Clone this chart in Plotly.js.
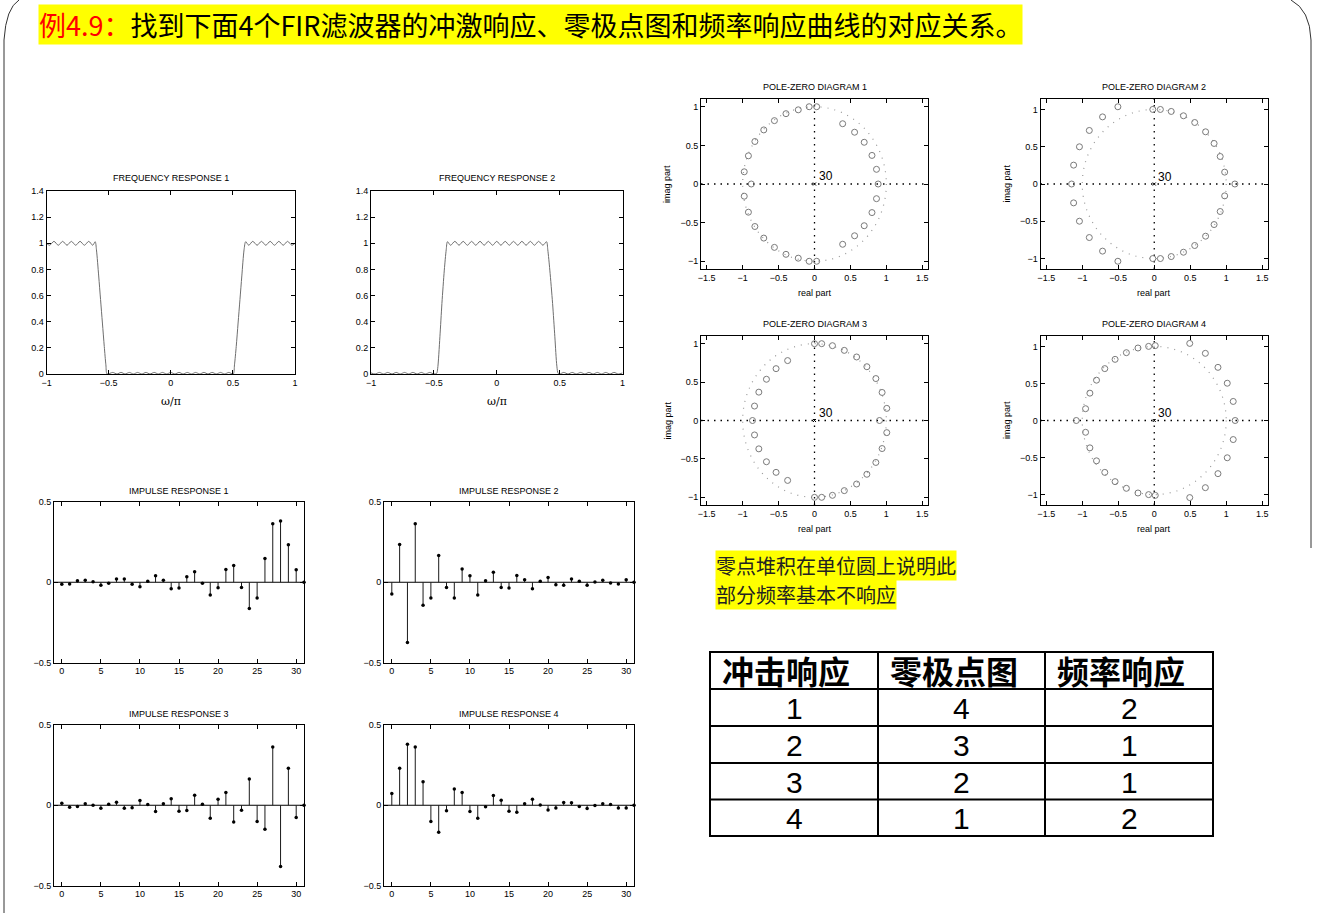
<!DOCTYPE html>
<html><head><meta charset="utf-8">
<script src="https://cdn.plot.ly/plotly-3.0.1.min.js"></script>
<style>html,body{margin:0;padding:0;background:#fff}#chart{width:1317px;height:913px}</style>
</head><body><div id="chart"></div>
<script>
const W = 1317, H = 913;

// ---------- DATA ----------
const slideTitleRed = '例4.9：';
const slideTitleBlack = '找到下面4个FIR滤波器的冲激响应、零极点图和频率响应曲线的对应关系。';
const noteLines = ['零点堆积在单位圆上说明此', '部分频率基本不响应'];

const frTitles = ['FREQUENCY RESPONSE 1', 'FREQUENCY RESPONSE 2'];
const irTitles = ['IMPULSE RESPONSE 1', 'IMPULSE RESPONSE 2', 'IMPULSE RESPONSE 3', 'IMPULSE RESPONSE 4'];
const pzTitles = ['POLE-ZERO DIAGRAM 1', 'POLE-ZERO DIAGRAM 2', 'POLE-ZERO DIAGRAM 3', 'POLE-ZERO DIAGRAM 4'];

const frTicksX = [-1, -0.5, 0, 0.5, 1];
const frTicksY = [0, 0.2, 0.4, 0.6, 0.8, 1, 1.2, 1.4];
const irTicksX = [0, 5, 10, 15, 20, 25, 30];
const irTicksY = [-0.5, 0, 0.5];
const pzTicksX = [-1.5, -1, -0.5, 0, 0.5, 1, 1.5];
const pzTicksY = [-1, -0.5, 0, 0.5, 1];

const fr1X = [-1, -0.975, -0.94, -0.905, -0.87, -0.835, -0.8, -0.765, -0.73, -0.695, -0.66, -0.628, -0.608,
  -0.598, -0.58, -0.565, -0.55, -0.535, -0.522, -0.512,
  -0.467, -0.433, -0.4, -0.367, -0.333, -0.3, -0.267, -0.233, -0.2, -0.167, -0.133, -0.1, -0.067, -0.033, 0,
  0.033, 0.067, 0.1, 0.133, 0.167, 0.2, 0.233, 0.267, 0.3, 0.333, 0.367, 0.4, 0.433, 0.467, 0.503,
  0.513, 0.527, 0.542, 0.557, 0.572, 0.59, 0.603,
  0.628, 0.66, 0.695, 0.73, 0.765, 0.8, 0.835, 0.87, 0.905, 0.94, 0.975, 1];
const fr1Y = [1.0, 0.985, 1.015, 0.985, 1.015, 0.985, 1.015, 0.985, 1.015, 0.985, 1.015, 0.985, 1.012,
  0.95, 0.75, 0.57, 0.39, 0.21, 0.07, 0.0,
  0.012, 0, 0.012, 0, 0.012, 0, 0.012, 0, 0.012, 0, 0.012, 0, 0.012, 0, 0.012,
  0, 0.012, 0, 0.012, 0, 0.012, 0, 0.012, 0, 0.012, 0, 0.012, 0, 0.012, 0,
  0.07, 0.21, 0.39, 0.57, 0.75, 0.95, 1.012,
  0.985, 1.015, 0.985, 1.015, 0.985, 1.015, 0.985, 1.015, 0.985, 1.015, 0.985, 1.0];

const fr2X = [-1, -0.967, -0.933, -0.9, -0.867, -0.833, -0.8, -0.767, -0.733, -0.7, -0.667, -0.633, -0.6, -0.567, -0.533, -0.5,
  -0.478, -0.47, -0.452, -0.436, -0.417, -0.402, -0.392,
  -0.367, -0.333, -0.3, -0.267, -0.233, -0.2, -0.167, -0.133, -0.1, -0.067, -0.033, 0,
  0.033, 0.067, 0.1, 0.133, 0.167, 0.2, 0.233, 0.267, 0.3, 0.333, 0.367, 0.396,
  0.406, 0.422, 0.444, 0.462, 0.478, 0.488,
  0.5, 0.533, 0.567, 0.6, 0.633, 0.667, 0.7, 0.733, 0.767, 0.8, 0.833, 0.867, 0.9, 0.933, 0.967, 1];
const fr2Y = [0.008, 0, 0.012, 0, 0.012, 0, 0.012, 0, 0.012, 0, 0.012, 0, 0.012, 0, 0.012, 0,
  0.005, 0.04, 0.285, 0.54, 0.795, 0.95, 1.012,
  0.985, 1.015, 0.985, 1.015, 0.985, 1.015, 0.985, 1.015, 0.985, 1.015, 0.985, 1.015,
  0.985, 1.015, 0.985, 1.015, 0.985, 1.015, 0.985, 1.015, 0.985, 1.015, 0.985, 1.012,
  0.95, 0.795, 0.54, 0.285, 0.06, 0.005,
  0, 0.012, 0, 0.012, 0, 0.012, 0, 0.012, 0, 0.012, 0, 0.012, 0, 0.012, 0, 0.008];

const irN = [0, 1, 2, 3, 4, 5, 6, 7, 8, 9, 10, 11, 12, 13, 14, 15, 16, 17, 18, 19, 20, 21, 22, 23, 24, 25, 26, 27, 28, 29, 30, 31];
const ir1 = [-0.013, -0.011, 0.009, 0.013, 0.003, -0.018, -0.007, 0.02, 0.02, -0.013, -0.028, 0.007, 0.04, 0.013, -0.04, -0.036,
  0.034, 0.065, -0.007, -0.08, -0.034, 0.08, 0.105, -0.032, -0.163, -0.098, 0.148, 0.365, 0.382, 0.233, 0.078, 0];
const ir2 = [-0.073, 0.235, -0.376, 0.365, -0.144, -0.098, 0.167, -0.032, -0.098, 0.082, 0.04, -0.08, 0.009, 0.063, -0.032, -0.036,
  0.042, 0.016, -0.04, 0.007, 0.03, -0.016, -0.018, 0.02, 0.007, -0.018, 0.001, 0.013, -0.005, -0.011, 0.016, 0];
const ir3 = [0.012, -0.012, -0.008, 0.010, 0.0, -0.019, 0.006, 0.019, -0.019, -0.015, 0.029, 0.004, -0.039, 0.010, 0.041, -0.037,
  -0.033, 0.062, 0.006, -0.081, 0.037, 0.079, -0.104, -0.031, 0.164, -0.102, -0.149, 0.363, -0.382, 0.230, -0.077, 0];
const ir4 = [0.073, 0.230, 0.380, 0.363, 0.147, -0.102, -0.168, -0.035, 0.102, 0.079, -0.039, -0.081, -0.010, 0.060, 0.031, -0.037,
  -0.044, 0.010, 0.037, 0.002, -0.029, -0.017, 0.017, 0.015, -0.008, -0.021, -0.002, 0.010, 0.004, -0.017, -0.017, 0];

const pz1Re = [0.03, -0.074, -0.226, -0.397, -0.558, -0.706, -0.83, -0.92, -0.978, 0.392, 0.558, 0.692, 0.80, 0.863, -0.88, 0.886,
  0.03, -0.074, -0.226, -0.397, -0.558, -0.706, -0.83, -0.92, -0.978, 0.392, 0.558, 0.692, 0.80, 0.863];
const pz1Im = [1.0, 1.0, 0.96, 0.91, 0.82, 0.70, 0.55, 0.365, 0.158, 0.78, 0.67, 0.54, 0.37, 0.19, 0, 0,
  -1.0, -1.0, -0.96, -0.91, -0.82, -0.70, -0.55, -0.365, -0.158, -0.78, -0.67, -0.54, -0.37, -0.19];
const pz2Re = [-0.02, 0.085, 0.236, 0.406, 0.562, 0.713, 0.831, 0.916, 0.978, -0.505, -0.718, -0.902, -1.039, -1.12, 1.12, -1.148,
  -0.02, 0.085, 0.236, 0.406, 0.562, 0.713, 0.831, 0.916, 0.978, -0.505, -0.718, -0.902, -1.039, -1.12];
const pz2Im = [1.0, 1.0, 0.973, 0.915, 0.825, 0.70, 0.544, 0.369, 0.159, 1.036, 0.90, 0.718, 0.499, 0.253, 0, 0,
  -1.0, -1.0, -0.973, -0.915, -0.825, -0.70, -0.544, -0.369, -0.159, -1.036, -0.90, -0.718, -0.499, -0.253];
const pz3Re = [0.0, 0.10, 0.25, 0.415, 0.586, 0.729, 0.854, 0.941, 1.006, -0.374, -0.535, -0.669, -0.775, -0.835, 0.905, -0.863,
  0.0, 0.10, 0.25, 0.415, 0.586, 0.729, 0.854, 0.941, 1.006, -0.374, -0.535, -0.669, -0.775, -0.835];
const pz3Im = [1.0, 1.0, 0.974, 0.913, 0.827, 0.70, 0.546, 0.365, 0.158, 0.78, 0.675, 0.537, 0.369, 0.188, 0, 0,
  -1.0, -1.0, -0.974, -0.913, -0.827, -0.70, -0.546, -0.365, -0.158, -0.78, -0.675, -0.537, -0.369, -0.188];
const pz4Re = [0.014, -0.078, -0.226, -0.387, -0.544, -0.687, -0.802, -0.894, -0.954, 0.493, 0.71, 0.885, 1.014, 1.097, -1.083, 1.124,
  0.014, -0.078, -0.226, -0.387, -0.544, -0.687, -0.802, -0.894, -0.954, 0.493, 0.71, 0.885, 1.014, 1.097];
const pz4Im = [1.01, 1.0, 0.978, 0.915, 0.825, 0.70, 0.544, 0.369, 0.159, 1.04, 0.906, 0.717, 0.503, 0.257, 0, 0,
  -1.01, -1.0, -0.978, -0.915, -0.825, -0.70, -0.544, -0.369, -0.159, -1.04, -0.906, -0.717, -0.503, -0.257];
const poleOrderLabel = '30';
const poleRe = [0], poleIm = [0];

const tableHeader = ['冲击响应', '零极点图', '频率响应'];
const colImpulse = ['1', '2', '3', '4'];
const colPoleZero = ['4', '3', '2', '1'];
const colFreq = ['2', '1', '1', '2'];

// ---------- HELPERS ----------
const AX_FONT = {family: 'Liberation Sans, Arial, sans-serif', size: 9, color: '#000'};
function xAxis(l, r, range, ticks, anchor) {
  return {domain: [l / W, r / W], range: range, tickmode: 'array', tickvals: ticks, ticks: 'inside', ticklen: 4,
    tickcolor: '#000', tickwidth: 1, showline: true, mirror: 'ticks', linecolor: '#000', linewidth: 1,
    showgrid: false, zeroline: false, anchor: anchor, tickfont: AX_FONT, fixedrange: true};
}
function yAxis(t, b, range, ticks, anchor) {
  return {domain: [1 - b / H, 1 - t / H], range: range, tickmode: 'array', tickvals: ticks, ticks: 'inside', ticklen: 4,
    tickcolor: '#000', tickwidth: 1, showline: true, mirror: 'ticks', linecolor: '#000', linewidth: 1,
    showgrid: false, zeroline: false, anchor: anchor, tickfont: AX_FONT, fixedrange: true};
}
function stem(n, v) {
  const x = [], y = [];
  n.forEach((k, i) => { x.push(k, k, null); y.push(0, v[i], null); });
  return {x, y};
}
const PX = p => p / W, PY = p => 1 - p / H;
function label(text, px, py, opts) {
  return Object.assign({xref: 'paper', yref: 'paper', x: PX(px), y: PY(py), text: text, showarrow: false,
    xanchor: 'center', yanchor: 'middle', font: {family: 'Liberation Sans, Arial, sans-serif', size: 9, color: '#000'}}, opts || {});
}
function linePx(x0, y0, x1, y1, style) {
  return Object.assign({type: 'line', xref: 'paper', yref: 'paper', x0: PX(x0), x1: PX(x1), y0: PY(y0), y1: PY(y1)}, style);
}

// ---------- SUBPLOT GEOMETRY ----------
const frBoxes = [[46.5, 295, 191, 374], [371, 622.5, 191, 374]];
const irBoxes = [[54, 304, 502, 662.5], [384, 634, 502, 662.5], [54, 304, 725, 885.5], [384, 634, 725, 885.5]];
const pzBoxes = [[701, 928, 99, 269], [1040.5, 1268, 99, 269], [701, 928, 336, 505], [1040.5, 1268, 336, 505]];
const pzYr = [[-1.1, 1.1], [-1.14, 1.14], [-1.1, 1.1], [-1.14, 1.14]];

const layout = {width: W, height: H, margin: {l: 0, r: 0, t: 0, b: 0}, paper_bgcolor: '#fff', plot_bgcolor: 'rgba(0,0,0,0)',
  showlegend: false, shapes: [], annotations: []};
const traces = [];

// frequency responses (axes 1,2)
const frData = [[fr1X, fr1Y], [fr2X, fr2Y]];
frBoxes.forEach((b, i) => {
  const k = i + 1, xs = k === 1 ? '' : k, id = 'x' + xs, idy = 'y' + xs;
  layout['xaxis' + xs] = xAxis(b[0], b[1], [-1, 1], frTicksX, idy);
  layout['yaxis' + xs] = yAxis(b[2], b[3], [0, 1.4], frTicksY, id);
  traces.push({type: 'scatter', mode: 'lines', x: frData[i][0], y: frData[i][1], xaxis: id, yaxis: idy,
    line: {color: '#6e6e6e', width: 1, shape: 'spline', smoothing: 0.8}, hoverinfo: 'skip'});
  layout.annotations.push(label(frTitles[i], (b[0] + b[1]) / 2, 178));
  layout.annotations.push(label('ω/π', (b[0] + b[1]) / 2, 401, {font: {family: 'DejaVu Serif, serif', size: 11, color: '#000'}}));
});

// impulse responses (axes 3..6)
const irData = [ir1, ir2, ir3, ir4];
irBoxes.forEach((b, i) => {
  const k = i + 3, id = 'x' + k, idy = 'y' + k;
  layout['xaxis' + k] = xAxis(b[0], b[1], [-1, 31], irTicksX, idy);
  layout['yaxis' + k] = yAxis(b[2], b[3], [-0.5, 0.5], irTicksY, id);
  const s = stem(irN, irData[i]);
  traces.push({type: 'scatter', mode: 'lines', x: s.x, y: s.y, xaxis: id, yaxis: idy,
    line: {color: '#1a1a1a', width: 1}, hoverinfo: 'skip', cliponaxis: false});
  traces.push({type: 'scatter', mode: 'markers', x: irN, y: irData[i], xaxis: id, yaxis: idy,
    marker: {color: '#000', size: 3.5}, hoverinfo: 'skip', cliponaxis: false});
  layout.shapes.push({type: 'line', xref: id + ' domain', yref: idy, x0: 0, x1: 1, y0: 0, y1: 0,
    line: {color: '#000', width: 1}, layer: 'below'});
  layout.annotations.push(label(irTitles[i], (b[0] + b[1]) / 2, b[2] - 11));
});

// pole-zero diagrams (axes 7..10)
const pzData = [[pz1Re, pz1Im], [pz2Re, pz2Im], [pz3Re, pz3Im], [pz4Re, pz4Im]];
pzBoxes.forEach((b, i) => {
  const k = i + 7, id = 'x' + k, idy = 'y' + k;
  layout['xaxis' + k] = xAxis(b[0], b[1], [-1.58, 1.58], pzTicksX, idy);
  layout['yaxis' + k] = yAxis(b[2], b[3], pzYr[i], pzTicksY, id);
  layout.shapes.push({type: 'circle', xref: id, yref: idy, x0: -1, y0: -1, x1: 1, y1: 1,
    line: {color: '#9a9a9a', width: 1.2, dash: '1px,6px'}, layer: 'below'});
  layout.shapes.push({type: 'line', xref: id + ' domain', yref: idy, x0: 0, x1: 1, y0: 0, y1: 0,
    line: {color: '#000', width: 1.3, dash: '1.5px,5px'}, layer: 'below'});
  layout.shapes.push({type: 'line', xref: id, yref: idy + ' domain', x0: 0, x1: 0, y0: 0, y1: 1,
    line: {color: '#000', width: 1.3, dash: '1.5px,5px'}, layer: 'below'});
  traces.push({type: 'scatter', mode: 'markers', x: pzData[i][0], y: pzData[i][1], xaxis: id, yaxis: idy,
    marker: {symbol: 'circle-open', size: 6, color: '#7a7a7a', line: {width: 1, color: '#7a7a7a'}}, hoverinfo: 'skip'});
  traces.push({type: 'scatter', mode: 'markers', x: poleRe, y: poleIm, xaxis: id, yaxis: idy,
    marker: {symbol: 'x-thin-open', size: 3, color: '#000', line: {width: 1, color: '#000'}}, hoverinfo: 'skip'});
  layout.annotations.push({xref: id, yref: idy, x: 0.03, y: 0.1, text: poleOrderLabel, showarrow: false,
    xanchor: 'left', yanchor: 'middle', font: {family: 'Liberation Sans, Arial, sans-serif', size: 12, color: '#000'}});
  layout.annotations.push(label(pzTitles[i], (b[0] + b[1]) / 2, b[2] - 12));
  layout.annotations.push(label('real part', (b[0] + b[1]) / 2, b[3] + 24));
  layout.annotations.push(label('imag part', b[0] - 34, (b[2] + b[3]) / 2, {textangle: -90}));
});

// slide title banner
layout.annotations.push({xref: 'paper', yref: 'paper', x: PX(38), y: PY(4), xanchor: 'left', yanchor: 'top',
  text: '<span style="color:#ff0000">' + slideTitleRed + '</span>' + slideTitleBlack, showarrow: false,
  bgcolor: '#ffff00', borderpad: 0, font: {family: 'Noto Sans CJK SC, sans-serif', size: 27, color: '#000'}});

// note: one highlighted annotation per line, stacked without overlap
noteLines.forEach((t, i) => {
  layout.annotations.push({xref: 'paper', yref: 'paper', x: PX(715), y: PY(565.5 + i * 29), xanchor: 'left', yanchor: 'middle',
    text: t, showarrow: false, bgcolor: '#ffff00', borderpad: 0,
    font: {family: 'Noto Sans CJK SC, sans-serif', size: 20, color: '#222'}});
});

// slide frame
layout.shapes.push({type: 'path', xref: 'paper', yref: 'paper',
  path: `M ${PX(4)} ${PY(913)} L ${PX(4)} ${PY(40)} Q ${PX(6)} ${PY(8)} ${PX(19)} ${PY(0)}`,
  line: {color: '#333', width: 1}});
layout.shapes.push({type: 'path', xref: 'paper', yref: 'paper',
  path: `M ${PX(1291)} ${PY(0)} Q ${PX(1310)} ${PY(10)} ${PX(1311)} ${PY(40)} L ${PX(1311)} ${PY(548)}`,
  line: {color: '#333', width: 1}});

// table: grid + cell texts from arrays
const tColX = [710, 878, 1045, 1213];
const tRowY = [652, 689, 726, 763, 799.5, 836];
const gridStyle = {line: {color: '#000', width: 2}};
tColX.forEach(x => layout.shapes.push(linePx(x, tRowY[0], x, tRowY[tRowY.length - 1], gridStyle)));
tRowY.forEach(y => layout.shapes.push(linePx(tColX[0] - 1, y, tColX[tColX.length - 1] + 1, y, gridStyle)));
tableHeader.forEach((h, c) => {
  layout.annotations.push({xref: 'paper', yref: 'paper', x: PX(tColX[c] + 10), y: PY((tRowY[0] + tRowY[1]) / 2 - 1),
    xanchor: 'left', yanchor: 'middle', text: '<b>' + h + '</b>', showarrow: false,
    font: {family: 'Noto Sans CJK SC, sans-serif', size: 32, color: '#000', weight: 'bold'}});
});
[colImpulse, colPoleZero, colFreq].forEach((col, c) => {
  col.forEach((v, r) => {
    layout.annotations.push({xref: 'paper', yref: 'paper', x: PX((tColX[c] + tColX[c + 1]) / 2), y: PY((tRowY[r + 1] + tRowY[r + 2]) / 2 + 1),
      xanchor: 'center', yanchor: 'middle', text: v, showarrow: false,
      font: {family: 'Liberation Sans, Arial, sans-serif', size: 30, color: '#000'}});
  });
});

Plotly.newPlot('chart', traces, layout, {displayModeBar: false, staticPlot: true});
</script></body></html>
